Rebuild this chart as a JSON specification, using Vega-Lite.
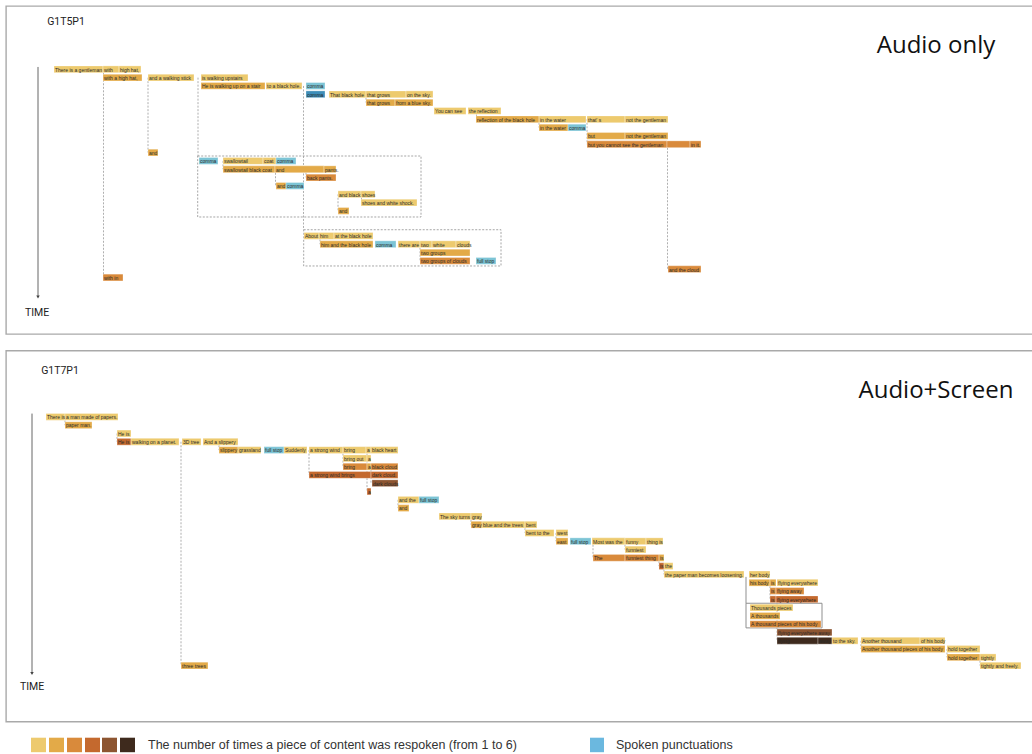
{
  "$schema": "https://vega.github.io/schema/vega-lite/v6.json",
  "padding": {"left": 5, "top": 5, "right": 0, "bottom": 0},
  "spacing": 14.6,
  "background": "white",
  "config": {"view": {"stroke": "#a9a9a9", "strokeWidth": 1.4}},
  "datasets": {
    "segs": [
      {"p":1,"r":0,"s":53,"e":102,"c":"1","t":"There is a gentleman"},
      {"p":1,"r":0,"s":102,"e":118,"c":"1","t":"with"},
      {"p":1,"r":0,"s":118,"e":140,"c":"1","t":"high hat,"},
      {"p":1,"r":1,"s":102,"e":141,"c":"2","t":"with a high hat,"},
      {"p":1,"r":1,"s":147,"e":193,"c":"1","t":"and a walking stick"},
      {"p":1,"r":1,"s":200,"e":247,"c":"1","t":"is walking upstairs"},
      {"p":1,"r":2,"s":200,"e":264,"c":"2","t":"He is walking up on a stair"},
      {"p":1,"r":2,"s":265,"e":301,"c":"1","t":"to a black hole."},
      {"p":1,"r":2,"s":305,"e":324,"c":"p","t":"comma"},
      {"p":1,"r":3,"s":305,"e":324,"c":"q","t":"comma"},
      {"p":1,"r":3,"s":328,"e":365,"c":"1","t":"That black hole"},
      {"p":1,"r":3,"s":365,"e":405,"c":"1","t":"that grows"},
      {"p":1,"r":3,"s":405,"e":432,"c":"1","t":"on the sky."},
      {"p":1,"r":4,"s":365,"e":394,"c":"2","t":"that grows"},
      {"p":1,"r":4,"s":394,"e":432,"c":"2","t":"from a blue sky."},
      {"p":1,"r":5,"s":433,"e":465,"c":"1","t":"You can see"},
      {"p":1,"r":5,"s":467,"e":500,"c":"1","t":"the reflection"},
      {"p":1,"r":6,"s":475,"e":538,"c":"2","t":"reflection of the black hole"},
      {"p":1,"r":6,"s":538,"e":585,"c":"1","t":"in the water"},
      {"p":1,"r":6,"s":586,"e":624,"c":"1","t":"that' s"},
      {"p":1,"r":6,"s":624,"e":667,"c":"1","t":"not the gentleman"},
      {"p":1,"r":7,"s":538,"e":567,"c":"2","t":"in the water"},
      {"p":1,"r":7,"s":567,"e":585,"c":"p","t":"comma"},
      {"p":1,"r":8,"s":586,"e":624,"c":"2","t":"but"},
      {"p":1,"r":8,"s":624,"e":667,"c":"2","t":"not the gentleman"},
      {"p":1,"r":9,"s":586,"e":666,"c":"3","t":"but you cannot see the gentleman"},
      {"p":1,"r":9,"s":666,"e":689,"c":"3","t":""},
      {"p":1,"r":9,"s":689,"e":700,"c":"3","t":"in it."},
      {"p":1,"r":10,"s":147,"e":157,"c":"2","t":"and"},
      {"p":1,"r":11,"s":198,"e":217,"c":"p","t":"comma"},
      {"p":1,"r":11,"s":222,"e":262,"c":"1","t":"swallowtail"},
      {"p":1,"r":11,"s":262,"e":275,"c":"1","t":"coat"},
      {"p":1,"r":11,"s":275,"e":295,"c":"p","t":"comma"},
      {"p":1,"r":12,"s":222,"e":274,"c":"2","t":"swallowtail black coat"},
      {"p":1,"r":12,"s":274,"e":323,"c":"2","t":"and"},
      {"p":1,"r":12,"s":323,"e":335,"c":"2","t":"pants."},
      {"p":1,"r":13,"s":305,"e":335,"c":"3","t":"back pants."},
      {"p":1,"r":14,"s":275,"e":285,"c":"2","t":"and"},
      {"p":1,"r":14,"s":285,"e":303,"c":"p","t":"comma"},
      {"p":1,"r":15,"s":337,"e":360,"c":"1","t":"and black"},
      {"p":1,"r":15,"s":360,"e":374,"c":"1","t":"shoes"},
      {"p":1,"r":16,"s":360,"e":416,"c":"1","t":"shoes and white shock."},
      {"p":1,"r":17,"s":337,"e":348,"c":"2","t":"and"},
      {"p":1,"r":20,"s":303,"e":318,"c":"1","t":"About"},
      {"p":1,"r":20,"s":318,"e":333,"c":"1","t":"him"},
      {"p":1,"r":20,"s":333,"e":372,"c":"1","t":"at the black hole"},
      {"p":1,"r":21,"s":319,"e":372,"c":"2","t":"him and the black hole"},
      {"p":1,"r":21,"s":374,"e":395,"c":"p","t":"comma"},
      {"p":1,"r":21,"s":397,"e":419,"c":"1","t":"there are"},
      {"p":1,"r":21,"s":419,"e":431,"c":"1","t":"two"},
      {"p":1,"r":21,"s":431,"e":455,"c":"1","t":"white"},
      {"p":1,"r":21,"s":455,"e":469,"c":"1","t":"clouds"},
      {"p":1,"r":22,"s":419,"e":469,"c":"2","t":"two groups"},
      {"p":1,"r":23,"s":419,"e":469,"c":"3","t":"two groups of clouds"},
      {"p":1,"r":23,"s":475,"e":495,"c":"p","t":"full stop"},
      {"p":1,"r":24,"s":667,"e":700,"c":"3","t":"and the cloud"},
      {"p":1,"r":25,"s":102,"e":122,"c":"3","t":"with  in"},

      {"p":2,"r":0,"s":45,"e":64,"c":"1","t":"There is"},
      {"p":2,"r":0,"s":64,"e":117,"c":"1","t":"a man made of papers."},
      {"p":2,"r":1,"s":64,"e":91,"c":"2","t":"paper man."},
      {"p":2,"r":2,"s":116,"e":130,"c":"1","t":"He is"},
      {"p":2,"r":3,"s":116,"e":130,"c":"4","t":"He is"},
      {"p":2,"r":3,"s":130,"e":178,"c":"1","t":"walking on a planet."},
      {"p":2,"r":3,"s":181,"e":200,"c":"1","t":"3D tree"},
      {"p":2,"r":3,"s":202,"e":237,"c":"1","t":"And a slippery"},
      {"p":2,"r":4,"s":218,"e":237,"c":"2","t":"slippery"},
      {"p":2,"r":4,"s":237,"e":260,"c":"1","t":"grassland"},
      {"p":2,"r":4,"s":263,"e":283,"c":"p","t":"full stop"},
      {"p":2,"r":4,"s":283,"e":306,"c":"1","t":"Suddenly"},
      {"p":2,"r":4,"s":308,"e":342,"c":"1","t":"a strong wind"},
      {"p":2,"r":4,"s":342,"e":365,"c":"1","t":"bring"},
      {"p":2,"r":4,"s":365,"e":370,"c":"1","t":"a"},
      {"p":2,"r":4,"s":370,"e":397,"c":"1","t":"black heart"},
      {"p":2,"r":5,"s":342,"e":366,"c":"1","t":"bring out"},
      {"p":2,"r":5,"s":366,"e":370,"c":"1","t":"a"},
      {"p":2,"r":6,"s":342,"e":366,"c":"3","t":"bring"},
      {"p":2,"r":6,"s":366,"e":370,"c":"2","t":"a"},
      {"p":2,"r":6,"s":370,"e":397,"c":"3","t":"black cloud"},
      {"p":2,"r":7,"s":308,"e":370,"c":"4","t":"a strong wind brings"},
      {"p":2,"r":7,"s":370,"e":397,"c":"4","t":"dark cloud."},
      {"p":2,"r":8,"s":371,"e":397,"c":"5","t":"dark clouds"},
      {"p":2,"r":9,"s":366,"e":370,"c":"4","t":"a"},
      {"p":2,"r":10,"s":397,"e":418,"c":"1","t":"and the"},
      {"p":2,"r":10,"s":418,"e":438,"c":"p","t":"full stop"},
      {"p":2,"r":11,"s":397,"e":408,"c":"2","t":"and"},
      {"p":2,"r":12,"s":438,"e":470,"c":"1","t":"The sky turns"},
      {"p":2,"r":12,"s":470,"e":481,"c":"1","t":"gray"},
      {"p":2,"r":13,"s":470,"e":481,"c":"2","t":"gray"},
      {"p":2,"r":13,"s":481,"e":524,"c":"1","t":"blue and the trees"},
      {"p":2,"r":13,"s":524,"e":536,"c":"1","t":"bent"},
      {"p":2,"r":14,"s":524,"e":553,"c":"1","t":"bent to the"},
      {"p":2,"r":14,"s":555,"e":567,"c":"1","t":"west"},
      {"p":2,"r":15,"s":555,"e":567,"c":"2","t":"east"},
      {"p":2,"r":15,"s":569,"e":590,"c":"p","t":"full stop"},
      {"p":2,"r":15,"s":591,"e":624,"c":"1","t":"Most was the"},
      {"p":2,"r":15,"s":624,"e":645,"c":"1","t":"funny"},
      {"p":2,"r":15,"s":645,"e":662,"c":"1","t":"thing is"},
      {"p":2,"r":16,"s":624,"e":645,"c":"1","t":"funniest"},
      {"p":2,"r":17,"s":592,"e":624,"c":"3","t":"The"},
      {"p":2,"r":17,"s":624,"e":658,"c":"3","t":"funniest thing"},
      {"p":2,"r":17,"s":658,"e":663,"c":"2","t":"is"},
      {"p":2,"r":18,"s":658,"e":663,"c":"4","t":"is"},
      {"p":2,"r":18,"s":663,"e":672,"c":"1","t":"the"},
      {"p":2,"r":19,"s":663,"e":743,"c":"1","t":"the paper man becomes loosening."},
      {"p":2,"r":19,"s":748,"e":769,"c":"1","t":"her body"},
      {"p":2,"r":20,"s":748,"e":769,"c":"2","t":"his body"},
      {"p":2,"r":20,"s":769,"e":775,"c":"2","t":"is"},
      {"p":2,"r":20,"s":776,"e":817,"c":"1","t":"flying everywhere"},
      {"p":2,"r":21,"s":769,"e":775,"c":"3","t":"is"},
      {"p":2,"r":21,"s":775,"e":803,"c":"3","t":"flying away"},
      {"p":2,"r":22,"s":769,"e":775,"c":"4","t":"is"},
      {"p":2,"r":22,"s":775,"e":817,"c":"4","t":"flying everywhere"},
      {"p":2,"r":23,"s":749,"e":792,"c":"1","t":"Thousands pieces"},
      {"p":2,"r":24,"s":749,"e":779,"c":"2","t":"A thousands"},
      {"p":2,"r":25,"s":749,"e":820,"c":"3","t":"A thousand pieces of his body"},
      {"p":2,"r":26,"s":776,"e":831,"c":"5","t":"flying everywhere away"},
      {"p":2,"r":27,"s":776,"e":817,"c":"6","t":"flying"},
      {"p":2,"r":27,"s":817,"e":831,"c":"6","t":"away"},
      {"p":2,"r":27,"s":831,"e":857,"c":"1","t":"to the sky."},
      {"p":2,"r":27,"s":860,"e":919,"c":"1","t":"Another thousand"},
      {"p":2,"r":27,"s":919,"e":944,"c":"1","t":"of his body"},
      {"p":2,"r":28,"s":860,"e":944,"c":"2","t":"Another thousand pieces of his body"},
      {"p":2,"r":28,"s":946,"e":979,"c":"1","t":"hold together"},
      {"p":2,"r":29,"s":946,"e":979,"c":"2","t":"hold together"},
      {"p":2,"r":29,"s":979,"e":995,"c":"1","t":"tightly"},
      {"p":2,"r":30,"s":180,"e":207,"c":"2","t":"three trees"},
      {"p":2,"r":30,"s":979,"e":1020,"c":"1","t":"tightly and freely."}
    ],
    "links": [
      {"p":1,"x":102.5,"r1":0,"r2":25},
      {"p":1,"x":147,"r1":1,"r2":10},
      {"p":1,"x":197,"r1":1,"r2":10.41},
      {"p":1,"x":302.5,"r1":2,"r2":19.26},
      {"p":1,"x":365,"r1":3,"r2":4},
      {"p":1,"x":475.5,"r1":5,"r2":6},
      {"p":1,"x":538,"r1":6,"r2":7},
      {"p":1,"x":586,"r1":6,"r2":9},
      {"p":1,"x":666.5,"r1":9,"r2":24},
      {"p":1,"x":222,"r1":11,"r2":12},
      {"p":1,"x":274.5,"r1":12,"r2":14},
      {"p":1,"x":305,"r1":12,"r2":13},
      {"p":1,"x":337,"r1":15,"r2":17},
      {"p":1,"x":360.5,"r1":15,"r2":16},
      {"p":1,"x":319,"r1":20,"r2":21},
      {"p":1,"x":419,"r1":21,"r2":23},
      {"p":2,"x":64,"r1":0,"r2":1},
      {"p":2,"x":116,"r1":2,"r2":3},
      {"p":2,"x":180,"r1":3,"r2":30},
      {"p":2,"x":218,"r1":3,"r2":4},
      {"p":2,"x":308,"r1":4,"r2":7},
      {"p":2,"x":342,"r1":4,"r2":6},
      {"p":2,"x":366,"r1":4,"r2":9},
      {"p":2,"x":370,"r1":6,"r2":8},
      {"p":2,"x":397,"r1":10,"r2":11},
      {"p":2,"x":470,"r1":12,"r2":13},
      {"p":2,"x":524,"r1":13,"r2":14},
      {"p":2,"x":555,"r1":14,"r2":15},
      {"p":2,"x":592,"r1":15,"r2":17},
      {"p":2,"x":624,"r1":15,"r2":16},
      {"p":2,"x":658,"r1":17,"r2":18},
      {"p":2,"x":663,"r1":18,"r2":19},
      {"p":2,"x":769,"r1":20,"r2":22},
      {"p":2,"x":776,"r1":22,"r2":27},
      {"p":2,"x":860,"r1":27,"r2":28},
      {"p":2,"x":946,"r1":28,"r2":29},
      {"p":2,"x":979,"r1":29,"r2":30}
    ],
    "boxes": [
      {"p":1,"x1":196.7,"x2":420,"r1":10.41,"r2":17.73},
      {"p":1,"x1":302.7,"x2":500,"r1":19.26,"r2":23.61},
      {"p":2,"x1":745,"x2":821,"r1":22.48,"r2":25.45}
    ],
    "brackets": [
      {"p":2,"x":745,"r1":19.3,"r2":22.48}
    ],
    "timeaxis": [
      {"p":1,"x":37,"r1":-0.28,"r2":27.33,"tr":29.24,"tx":36},
      {"p":2,"x":31,"r1":-0.4,"r2":30.96,"tr":32.54,"tx":31}
    ],
    "ids": [
      {"p":1,"x":65,"r":-5.62,"t":"G1T5P1"},
      {"p":2,"x":59,"r":-5.585,"t":"G1T7P1"}
    ],
    "titles": [
      {"p":1,"x":935,"r":-2.8,"t":"Audio only"},
      {"p":2,"x":935,"r":-3.17,"t":"Audio+Screen"}
    ],
    "legend": [
      {"s":30,"e":45,"c":"1"},
      {"s":48,"e":63,"c":"2"},
      {"s":66,"e":81,"c":"3"},
      {"s":84,"e":99,"c":"4"},
      {"s":101,"e":116,"c":"5"},
      {"s":119,"e":134,"c":"6"},
      {"s":589,"e":603,"c":"L"}
    ],
    "legendText": [
      {"x":147,"t":"The number of times a piece of content was respoken (from 1 to 6)"},
      {"x":615,"t":"Spoken punctuations"}
    ]
  },
  "vconcat": [
    {
      "width": 1027,
      "height": 328,
      "layer": [
        {
          "data": {"name": "boxes"},
          "transform": [{"filter": "datum.p == 1"}],
          "mark": {"type": "rect", "fill": null, "fillOpacity": 0, "stroke": "#8f8f8f", "strokeWidth": 0.8, "strokeDash": [2, 1.5]},
          "encoding": {
            "x": {"field": "x1", "type": "quantitative", "scale": {"domain": [5, 1032], "nice": false, "zero": false, "padding": 0}, "axis": null},
            "x2": {"field": "x2"},
            "y": {"field": "r1", "type": "quantitative", "scale": {"domain": [-7.599, 31.777], "reverse": true, "nice": false, "zero": false, "padding": 0}, "axis": null},
            "y2": {"field": "r2"}
          }
        },
        {
          "data": {"name": "links"},
          "transform": [{"filter": "datum.p == 1"}],
          "mark": {"type": "rule", "color": "#9a9a9a", "strokeWidth": 0.8, "strokeDash": [2, 1.5]},
          "encoding": {
            "x": {"field": "x", "type": "quantitative", "scale": {"domain": [5, 1032], "nice": false, "zero": false, "padding": 0}, "axis": null},
            "y": {"field": "r1", "type": "quantitative", "scale": {"domain": [-7.599, 31.777], "reverse": true, "nice": false, "zero": false, "padding": 0}, "axis": null},
            "y2": {"field": "r2"}
          }
        },
        {
          "data": {"name": "segs"},
          "transform": [{"filter": "datum.p == 1"}],
          "mark": {"type": "bar", "orient": "horizontal", "size": 6.8, "stroke": "white", "strokeWidth": 0.3},
          "encoding": {
            "x": {"field": "s", "type": "quantitative", "scale": {"domain": [5, 1032], "nice": false, "zero": false, "padding": 0}, "axis": null},
            "x2": {"field": "e"},
            "y": {"field": "r", "type": "quantitative", "scale": {"domain": [-7.599, 31.777], "reverse": true, "nice": false, "zero": false, "padding": 0}, "axis": null},
            "color": {"field": "c", "type": "nominal", "legend": null, "scale": {"domain": ["1","2","3","4","5","6","p","q","L"], "range": ["#edca6e","#e3aa48","#d98a3b","#c4692e","#8d5531","#3e2a1d","#7cc4d5","#3e8eb9","#6bb8df"]}}
          }
        },
        {
          "data": {"name": "segs"},
          "transform": [{"filter": "datum.p == 1"}],
          "mark": {"type": "text", "align": "left", "baseline": "middle", "dx": 1, "dy": 0.3, "fontSize": 5, "font": "Liberation Sans", "color": "#2a2a2a"},
          "encoding": {
            "x": {"field": "s", "type": "quantitative", "scale": {"domain": [5, 1032], "nice": false, "zero": false, "padding": 0}, "axis": null},
            "y": {"field": "r", "type": "quantitative", "scale": {"domain": [-7.599, 31.777], "reverse": true, "nice": false, "zero": false, "padding": 0}, "axis": null},
            "text": {"field": "t"}
          }
        },
        {
          "data": {"name": "timeaxis"},
          "transform": [{"filter": "datum.p == 1"}],
          "mark": {"type": "rule", "color": "#666666", "strokeWidth": 1},
          "encoding": {
            "x": {"field": "x", "type": "quantitative", "scale": {"domain": [5, 1032], "nice": false, "zero": false, "padding": 0}, "axis": null},
            "y": {"field": "r1", "type": "quantitative", "scale": {"domain": [-7.599, 31.777], "reverse": true, "nice": false, "zero": false, "padding": 0}, "axis": null},
            "y2": {"field": "r2"}
          }
        },
        {
          "data": {"name": "timeaxis"},
          "transform": [{"filter": "datum.p == 1"}],
          "mark": {"type": "point", "shape": "triangle-down", "filled": true, "size": 12, "color": "#444444", "opacity": 1},
          "encoding": {
            "x": {"field": "x", "type": "quantitative", "scale": {"domain": [5, 1032], "nice": false, "zero": false, "padding": 0}, "axis": null},
            "y": {"field": "r2", "type": "quantitative", "scale": {"domain": [-7.599, 31.777], "reverse": true, "nice": false, "zero": false, "padding": 0}, "axis": null}
          }
        },
        {
          "data": {"name": "timeaxis"},
          "transform": [{"filter": "datum.p == 1"}],
          "mark": {"type": "text", "align": "center", "baseline": "middle", "fontSize": 10.5, "font": "Roboto", "color": "#222222", "text": "TIME"},
          "encoding": {
            "x": {"field": "tx", "type": "quantitative", "scale": {"domain": [5, 1032], "nice": false, "zero": false, "padding": 0}, "axis": null},
            "y": {"field": "tr", "type": "quantitative", "scale": {"domain": [-7.599, 31.777], "reverse": true, "nice": false, "zero": false, "padding": 0}, "axis": null}
          }
        },
        {
          "data": {"name": "ids"},
          "transform": [{"filter": "datum.p == 1"}],
          "mark": {"type": "text", "align": "center", "baseline": "middle", "fontSize": 10.5, "font": "Roboto", "color": "#222222"},
          "encoding": {
            "x": {"field": "x", "type": "quantitative", "scale": {"domain": [5, 1032], "nice": false, "zero": false, "padding": 0}, "axis": null},
            "y": {"field": "r", "type": "quantitative", "scale": {"domain": [-7.599, 31.777], "reverse": true, "nice": false, "zero": false, "padding": 0}, "axis": null},
            "text": {"field": "t"}
          }
        },
        {
          "data": {"name": "titles"},
          "transform": [{"filter": "datum.p == 1"}],
          "mark": {"type": "text", "align": "center", "baseline": "middle", "fontSize": 24, "font": "Open Sans", "color": "#111111"},
          "encoding": {
            "x": {"field": "x", "type": "quantitative", "scale": {"domain": [5, 1032], "nice": false, "zero": false, "padding": 0}, "axis": null},
            "y": {"field": "r", "type": "quantitative", "scale": {"domain": [-7.599, 31.777], "reverse": true, "nice": false, "zero": false, "padding": 0}, "axis": null},
            "text": {"field": "t"}
          }
        }
      ]
    },
    {
      "width": 1027,
      "height": 371,
      "layer": [
        {
          "data": {"name": "boxes"},
          "transform": [{"filter": "datum.p == 2"}],
          "mark": {"type": "rect", "fill": null, "fillOpacity": 0, "stroke": "#8f8f8f", "strokeWidth": 1},
          "encoding": {
            "x": {"field": "x1", "type": "quantitative", "scale": {"domain": [5, 1032], "nice": false, "zero": false, "padding": 0}, "axis": null},
            "x2": {"field": "x2"},
            "y": {"field": "r1", "type": "quantitative", "scale": {"domain": [-7.998, 36.755], "reverse": true, "nice": false, "zero": false, "padding": 0}, "axis": null},
            "y2": {"field": "r2"}
          }
        },
        {
          "data": {"name": "brackets"},
          "transform": [{"filter": "datum.p == 2"}],
          "mark": {"type": "rule", "color": "#8f8f8f", "strokeWidth": 1},
          "encoding": {
            "x": {"field": "x", "type": "quantitative", "scale": {"domain": [5, 1032], "nice": false, "zero": false, "padding": 0}, "axis": null},
            "y": {"field": "r1", "type": "quantitative", "scale": {"domain": [-7.998, 36.755], "reverse": true, "nice": false, "zero": false, "padding": 0}, "axis": null},
            "y2": {"field": "r2"}
          }
        },
        {
          "data": {"name": "links"},
          "transform": [{"filter": "datum.p == 2"}],
          "mark": {"type": "rule", "color": "#9a9a9a", "strokeWidth": 0.8, "strokeDash": [2, 1.5]},
          "encoding": {
            "x": {"field": "x", "type": "quantitative", "scale": {"domain": [5, 1032], "nice": false, "zero": false, "padding": 0}, "axis": null},
            "y": {"field": "r1", "type": "quantitative", "scale": {"domain": [-7.998, 36.755], "reverse": true, "nice": false, "zero": false, "padding": 0}, "axis": null},
            "y2": {"field": "r2"}
          }
        },
        {
          "data": {"name": "segs"},
          "transform": [{"filter": "datum.p == 2"}],
          "mark": {"type": "bar", "orient": "horizontal", "size": 6.8, "stroke": "white", "strokeWidth": 0.3},
          "encoding": {
            "x": {"field": "s", "type": "quantitative", "scale": {"domain": [5, 1032], "nice": false, "zero": false, "padding": 0}, "axis": null},
            "x2": {"field": "e"},
            "y": {"field": "r", "type": "quantitative", "scale": {"domain": [-7.998, 36.755], "reverse": true, "nice": false, "zero": false, "padding": 0}, "axis": null},
            "color": {"field": "c", "type": "nominal", "legend": null, "scale": {"domain": ["1","2","3","4","5","6","p","q","L"], "range": ["#edca6e","#e3aa48","#d98a3b","#c4692e","#8d5531","#3e2a1d","#7cc4d5","#3e8eb9","#6bb8df"]}}
          }
        },
        {
          "data": {"name": "segs"},
          "transform": [{"filter": "datum.p == 2"}],
          "mark": {"type": "text", "align": "left", "baseline": "middle", "dx": 1, "dy": 0.3, "fontSize": 5, "font": "Liberation Sans", "color": "#2a2a2a"},
          "encoding": {
            "x": {"field": "s", "type": "quantitative", "scale": {"domain": [5, 1032], "nice": false, "zero": false, "padding": 0}, "axis": null},
            "y": {"field": "r", "type": "quantitative", "scale": {"domain": [-7.998, 36.755], "reverse": true, "nice": false, "zero": false, "padding": 0}, "axis": null},
            "text": {"field": "t"}
          }
        },
        {
          "data": {"name": "timeaxis"},
          "transform": [{"filter": "datum.p == 2"}],
          "mark": {"type": "rule", "color": "#666666", "strokeWidth": 1},
          "encoding": {
            "x": {"field": "x", "type": "quantitative", "scale": {"domain": [5, 1032], "nice": false, "zero": false, "padding": 0}, "axis": null},
            "y": {"field": "r1", "type": "quantitative", "scale": {"domain": [-7.998, 36.755], "reverse": true, "nice": false, "zero": false, "padding": 0}, "axis": null},
            "y2": {"field": "r2"}
          }
        },
        {
          "data": {"name": "timeaxis"},
          "transform": [{"filter": "datum.p == 2"}],
          "mark": {"type": "point", "shape": "triangle-down", "filled": true, "size": 12, "color": "#444444", "opacity": 1},
          "encoding": {
            "x": {"field": "x", "type": "quantitative", "scale": {"domain": [5, 1032], "nice": false, "zero": false, "padding": 0}, "axis": null},
            "y": {"field": "r2", "type": "quantitative", "scale": {"domain": [-7.998, 36.755], "reverse": true, "nice": false, "zero": false, "padding": 0}, "axis": null}
          }
        },
        {
          "data": {"name": "timeaxis"},
          "transform": [{"filter": "datum.p == 2"}],
          "mark": {"type": "text", "align": "center", "baseline": "middle", "fontSize": 10.5, "font": "Roboto", "color": "#222222", "text": "TIME"},
          "encoding": {
            "x": {"field": "tx", "type": "quantitative", "scale": {"domain": [5, 1032], "nice": false, "zero": false, "padding": 0}, "axis": null},
            "y": {"field": "tr", "type": "quantitative", "scale": {"domain": [-7.998, 36.755], "reverse": true, "nice": false, "zero": false, "padding": 0}, "axis": null}
          }
        },
        {
          "data": {"name": "ids"},
          "transform": [{"filter": "datum.p == 2"}],
          "mark": {"type": "text", "align": "center", "baseline": "middle", "fontSize": 10.5, "font": "Roboto", "color": "#222222"},
          "encoding": {
            "x": {"field": "x", "type": "quantitative", "scale": {"domain": [5, 1032], "nice": false, "zero": false, "padding": 0}, "axis": null},
            "y": {"field": "r", "type": "quantitative", "scale": {"domain": [-7.998, 36.755], "reverse": true, "nice": false, "zero": false, "padding": 0}, "axis": null},
            "text": {"field": "t"}
          }
        },
        {
          "data": {"name": "titles"},
          "transform": [{"filter": "datum.p == 2"}],
          "mark": {"type": "text", "align": "center", "baseline": "middle", "fontSize": 24, "font": "Open Sans", "color": "#111111"},
          "encoding": {
            "x": {"field": "x", "type": "quantitative", "scale": {"domain": [5, 1032], "nice": false, "zero": false, "padding": 0}, "axis": null},
            "y": {"field": "r", "type": "quantitative", "scale": {"domain": [-7.998, 36.755], "reverse": true, "nice": false, "zero": false, "padding": 0}, "axis": null},
            "text": {"field": "t"}
          }
        }
      ]
    },
    {
      "width": 1027,
      "height": 18,
      "view": {"stroke": null},
      "layer": [
        {
          "data": {"name": "legend"},
          "mark": {"type": "rect"},
          "encoding": {
            "x": {"field": "s", "type": "quantitative", "scale": {"domain": [5, 1032], "nice": false, "zero": false, "padding": 0}, "axis": null},
            "x2": {"field": "e"},
            "y": {"datum": 0.5, "type": "quantitative", "scale": {"domain": [0, 18], "reverse": true, "nice": false, "zero": false, "padding": 0}, "axis": null},
            "y2": {"datum": 15},
            "color": {"field": "c", "type": "nominal", "legend": null, "scale": {"domain": ["1","2","3","4","5","6","p","q","L"], "range": ["#edca6e","#e3aa48","#d98a3b","#c4692e","#8d5531","#3e2a1d","#7cc4d5","#3e8eb9","#6bb8df"]}}
          }
        },
        {
          "data": {"name": "legendText"},
          "mark": {"type": "text", "align": "left", "baseline": "middle", "fontSize": 12.5, "font": "Liberation Sans", "color": "#333333"},
          "encoding": {
            "x": {"field": "x", "type": "quantitative", "scale": {"domain": [5, 1032], "nice": false, "zero": false, "padding": 0}, "axis": null},
            "y": {"datum": 7.8, "type": "quantitative", "scale": {"domain": [0, 18], "reverse": true, "nice": false, "zero": false, "padding": 0}, "axis": null},
            "text": {"field": "t"}
          }
        }
      ]
    }
  ]
}
